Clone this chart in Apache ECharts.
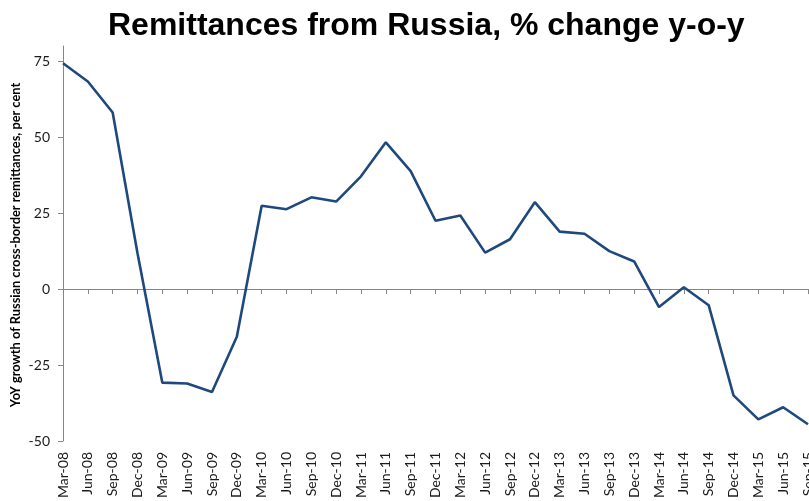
<!DOCTYPE html>
<html>
<head>
<meta charset="utf-8">
<title>Remittances from Russia</title>
<script src="https://cdn.jsdelivr.net/npm/echarts@6/dist/echarts.min.js"></script>
<style>
  html, body { margin: 0; padding: 0; background: #fff; }
  #chart { width: 809px; height: 501px; }
</style>
</head>
<body>
<div id="chart"></div>
<script>
// Quarterly periods
const quarters = [
  'Mar-08', 'Jun-08', 'Sep-08', 'Dec-08',
  'Mar-09', 'Jun-09', 'Sep-09', 'Dec-09',
  'Mar-10', 'Jun-10', 'Sep-10', 'Dec-10',
  'Mar-11', 'Jun-11', 'Sep-11', 'Dec-11',
  'Mar-12', 'Jun-12', 'Sep-12', 'Dec-12',
  'Mar-13', 'Jun-13', 'Sep-13', 'Dec-13',
  'Mar-14', 'Jun-14', 'Sep-14', 'Dec-14',
  'Mar-15', 'Jun-15', 'Sep-15'
];

// YoY growth of Russian cross-border remittances, per cent
const yoyGrowth = [
  74.3, 68.3, 58.1, 11.8,
  -30.8, -31.1, -33.9, -15.7,
  27.4, 26.3, 30.2, 28.8,
  37.1, 48.3, 38.8, 22.5,
  24.2, 12.0, 16.4, 28.6,
  18.9, 18.2, 12.5, 9.1,
  -5.9, 0.6, -5.3, -35.0,
  -42.9, -38.9, -44.5
];

// Value-axis tick labels
const yTicks = [-50, -25, 0, 25, 50, 75];

const axisGrey = '#868686';
const textColor = '#1a1a1a';

const chart = echarts.init(document.getElementById('chart'), null, { renderer: 'canvas' });

chart.setOption({
  animation: false,
  backgroundColor: '#ffffff',
  title: {
    text: 'Remittances from Russia, % change y-o-y',
    left: 108,
    top: 10,
    padding: 0,
    textStyle: {
      fontFamily: '"Liberation Sans", Arial, sans-serif',
      fontWeight: 'bold',
      fontSize: 32,
      color: '#000'
    }
  },
  graphic: [{
    type: 'text',
    x: 16,
    y: 245,
    rotation: Math.PI / 2,
    style: {
      text: 'YoY growth of Russian cross-border remittances, per cent',
      font: 'bold 12.8px Lato, sans-serif',
      fill: '#000',
      align: 'center',
      verticalAlign: 'middle'
    }
  }],
  grid: {
    left: 63,
    right: 1,
    top: 46,
    bottom: 60,
    containLabel: false,
    outerBoundsMode: 'none'
  },
  xAxis: [
    {
      // period labels along the bottom edge
      type: 'category',
      data: quarters,
      boundaryGap: false,
      position: 'bottom',
      axisLine: { show: false, onZero: false },
      axisTick: { show: false },
      splitLine: { show: false },
      axisLabel: {
        rotate: 90,
        margin: 11,
        interval: 0,
        hideOverlap: false,
        fontFamily: 'Lato, sans-serif',
        fontSize: 14,
        color: textColor
      }
    },
    {
      // category axis line crossing at zero
      type: 'category',
      data: quarters,
      boundaryGap: false,
      position: 'bottom',
      axisLine: { show: true, onZero: true, lineStyle: { color: axisGrey, width: 1 } },
      axisTick: { show: true, length: 5, interval: 0, lineStyle: { color: axisGrey, width: 1 } },
      axisLabel: { show: false },
      splitLine: { show: false }
    }
  ],
  yAxis: {
    type: 'value',
    min: -50,
    max: 80,
    interval: 25,
    axisLine: { show: true, lineStyle: { color: axisGrey, width: 1 } },
    axisTick: {
      show: true,
      length: 5,
      customValues: yTicks,
      lineStyle: { color: axisGrey, width: 1 }
    },
    axisLabel: {
      margin: 13,
      customValues: yTicks,
      fontFamily: 'Lato, sans-serif',
      fontSize: 14,
      color: textColor
    },
    splitLine: { show: false }
  },
  series: [{
    type: 'line',
    xAxisIndex: 0,
    data: yoyGrowth,
    symbol: 'none',
    smooth: false,
    lineStyle: { color: '#1F497D', width: 2.6 }
  }]
});
</script>
</body>
</html>
